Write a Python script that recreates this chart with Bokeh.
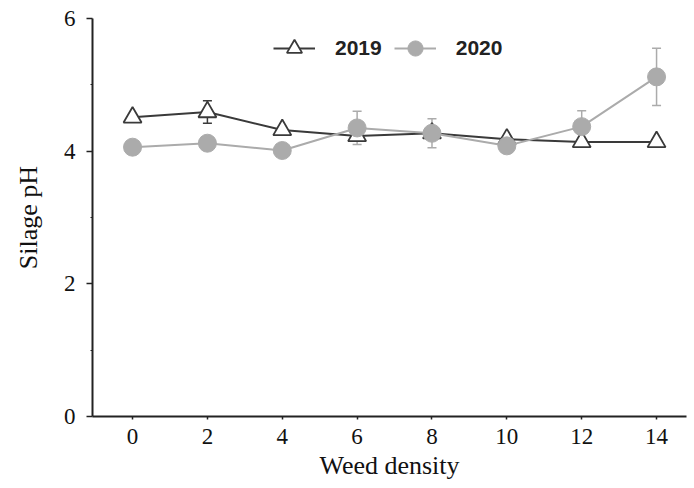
from bokeh.plotting import figure
from bokeh.models import ColumnDataSource, Whisker, TeeHead, Legend, LegendItem, FixedTicker, Range1d
from bokeh.embed import file_html
from bokeh.resources import INLINE

density = [0, 2, 4, 6, 8, 10, 12, 14]
ph_2019 = [4.51, 4.59, 4.32, 4.23, 4.27, 4.18, 4.14, 4.14]
err_2019 = [0.0, 0.17, 0.0, 0.0, 0.0, 0.0, 0.0, 0.0]
ph_2020 = [4.06, 4.12, 4.01, 4.35, 4.27, 4.08, 4.37, 5.12]
err_2020 = [0.0, 0.0, 0.0, 0.25, 0.22, 0.0, 0.24, 0.43]
x_ticks = [0, 2, 4, 6, 8, 10, 12, 14]
y_ticks = [0, 2, 4, 6]

c19 = "#3a3a3a"
c20 = "#ababab"

p = figure(frame_width=594, frame_height=398, min_border_left=92, min_border_right=2,
           min_border_top=18, min_border_bottom=70,
           x_range=Range1d(-1.07, 14.8), y_range=Range1d(0, 6),
           output_backend="svg", toolbar_location=None)
p.outline_line_color = None
p.grid.grid_line_color = None

def whisk(xs, ys, es, color):
    sel = [i for i, e in enumerate(es) if e > 0]
    src = ColumnDataSource(dict(x=[xs[i] for i in sel],
                                lo=[ys[i] - es[i] for i in sel],
                                hi=[ys[i] + es[i] for i in sel]))
    w = Whisker(source=src, base="x", lower="lo", upper="hi", line_color=color, line_width=1.5,
                upper_head=TeeHead(size=9, line_color=color, line_width=1.5),
                lower_head=TeeHead(size=9, line_color=color, line_width=1.5))
    p.add_layout(w)

whisk(density, ph_2019, err_2019, c19)
whisk(density, ph_2020, err_2020, c20)

l19 = p.line(density, ph_2019, line_color=c19, line_width=2)
m19 = p.scatter(density, ph_2019, marker="triangle", size=18, fill_color="white",
                line_color=c19, line_width=1.8)
l20 = p.line(density, ph_2020, line_color=c20, line_width=2)
m20 = p.scatter(density, ph_2020, marker="circle", size=18, fill_color=c20,
                line_color=c20)

legend = Legend(items=[LegendItem(label="2019", renderers=[l19, m19]),
                       LegendItem(label="2020", renderers=[l20, m20])],
                orientation="horizontal", location=(181, 349),
                border_line_color=None, background_fill_alpha=0,
                label_text_font="Liberation Sans", label_text_font_style="bold",
                label_text_font_size="21px", label_text_color="#222222",
                glyph_width=42, glyph_height=38, padding=0, spacing=12,
                label_standoff=20, margin=0)
p.add_layout(legend, "center")

for ax in (p.xaxis, p.yaxis):
    ax.axis_line_color = "#222222"
    ax.axis_line_width = 2
    ax.major_tick_line_color = "#222222"
    ax.major_tick_line_width = 1.5
    ax.major_label_text_font = "Liberation Serif"
    ax.major_label_text_font_size = "23px"
    ax.major_label_text_color = "#111111"
    ax.axis_label_text_font = "Liberation Serif"
    ax.axis_label_text_font_size = "26px"
    ax.axis_label_text_font_style = "normal"
    ax.axis_label_text_color = "#111111"

p.xaxis.ticker = FixedTicker(ticks=x_ticks)
p.xaxis.major_tick_in = 0
p.xaxis.major_tick_out = 3
p.xaxis.minor_tick_line_color = None
p.xaxis.major_label_standoff = 9
p.xaxis.axis_label = "Weed density"
p.xaxis.axis_label_standoff = 4

p.yaxis.ticker = FixedTicker(ticks=y_ticks, minor_ticks=[1, 3, 5])
p.yaxis.major_tick_in = 0
p.yaxis.major_tick_out = 6
p.yaxis.minor_tick_in = 0
p.yaxis.minor_tick_out = 2
p.yaxis.minor_tick_line_color = "#222222"
p.yaxis.major_label_standoff = 11
p.yaxis.axis_label = "Silage pH"
p.yaxis.axis_label_standoff = 18

open("out.html", "w").write(file_html(p, INLINE))
